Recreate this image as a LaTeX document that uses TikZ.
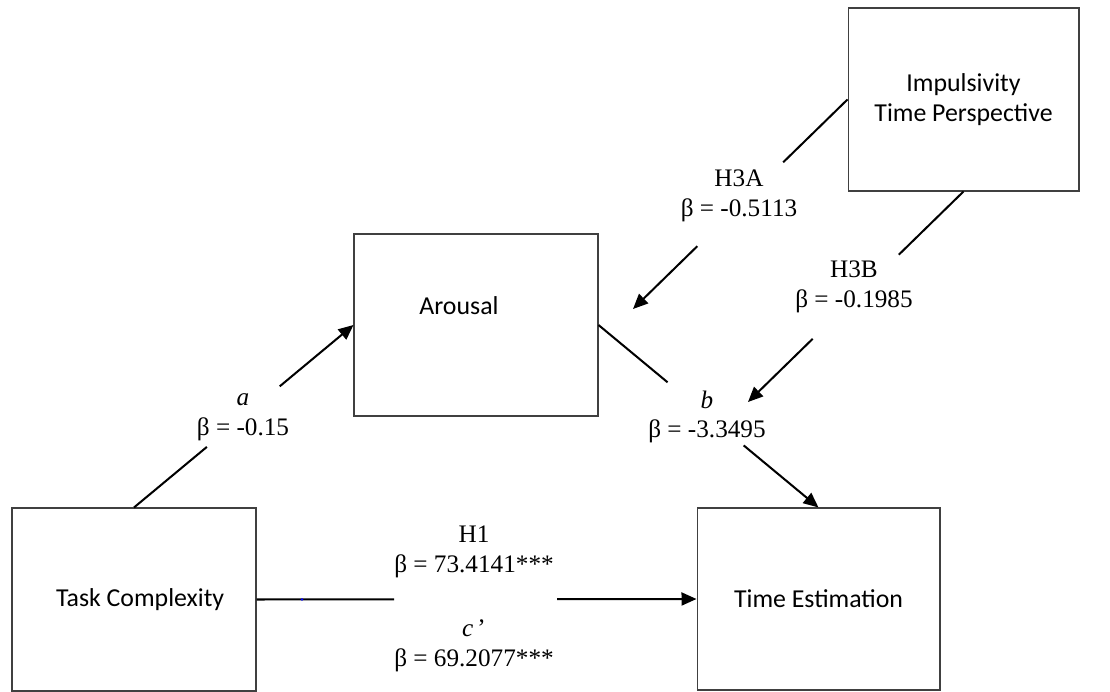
\documentclass[tikz,border=0pt]{standalone}
\usepackage{fontspec}
\setmainfont{Liberation Serif}
\newfontfamily\boxfont{Carlito}
\usetikzlibrary{arrows.meta, calc}
\definecolor{boxline}{RGB}{64,64,64}

\begin{document}
\begin{tikzpicture}[x=0.02cm, y=-0.02cm,
    box/.style={draw=boxline, line width=0.6pt, inner sep=0pt, align=center,
                font=\boxfont\fontsize{14.7}{17}\selectfont},
    lbl/.style={align=center, inner sep=0pt, font=\fontsize{14.35}{17}\selectfont},
    conn/.style={line width=1.15pt},
    arr/.style={conn, -{Triangle[length=0.3cm,width=0.26cm]}}]
  \useasboundingbox (0,0) rectangle (1110,692);

  % boxes
  \node[box, minimum width=4.62cm, minimum height=3.66cm] (imp) at (963.5,99.5)
    {Impulsivity\\Time Perspective};
  \node[box, minimum width=4.88cm, minimum height=3.64cm] (ar) at (476,325) {};
  \node[box, draw=none] (artxt) at (459,306) {Arousal};
  \node[box, minimum width=4.88cm, minimum height=3.66cm] (tc) at (134,599.5)
    {\hspace*{7pt}Task Complexity};
  \node[box, minimum width=4.86cm, minimum height=3.64cm] (te) at (818.5,599)
    {Time Estimation};

  % free ends of the moderating paths
  \coordinate (h3aend) at (633,309);
  \coordinate (h3bend) at (748,402);

  % a path
  \coordinate (a1) at ($(tc.north)!0.332!(ar.west)$);
  \coordinate (a2) at ($(tc.north)!0.664!(ar.west)$);
  \draw[conn] (tc.north) -- (a1);
  \draw[arr] (a2) -- (ar.west);
  \node[lbl] (la) at (243,417) {\textit{a}\\β = -0.15};

  % b path
  \coordinate (b1) at ($(ar.east)!0.314!(te.north)$);
  \coordinate (b2) at ($(ar.east)!0.66!(te.north)$);
  \draw[conn] (ar.east) -- (b1);
  \draw[arr] (b2) -- (te.north);
  \node[lbl] (lb) at (707,417) {\textit{b}\\β = -3.3495};

  % direct path
  \coordinate (c1) at ($(tc.east)!0.313!(te.west)$);
  \coordinate (c2) at ($(tc.east)!0.683!(te.west)$);
  \draw[conn] (tc.east) -- (c1);
  \draw[arr] (c2) -- (te.west);
  \fill[blue] (302,599.5) circle (0.8pt);
  \node[lbl] (lh1) at (474,552) {H1\\β = 73.4141***};
  \node[lbl] (lc) at (474,646) {\textit{c}\,’\\β = 69.2077***};

  % H3A
  \coordinate (h3a1) at ($(imp.west)!0.30!(h3aend)$);
  \coordinate (h3a2) at ($(imp.west)!0.70!(h3aend)$);
  \draw[conn] (imp.west) -- (h3a1);
  \draw[arr] (h3a2) -- (h3aend);
  \node[lbl] (lh3a) at (739,195.5) {H3A\\β = -0.5113};

  % H3B
  \coordinate (h3b1) at ($(imp.south)!0.30!(h3bend)$);
  \coordinate (h3b2) at ($(imp.south)!0.70!(h3bend)$);
  \draw[conn] (imp.south) -- (h3b1);
  \draw[arr] (h3b2) -- (h3bend);
  \node[lbl] (lh3b) at (854,286.5) {H3B\\β = -0.1985};
\end{tikzpicture}
\end{document}
